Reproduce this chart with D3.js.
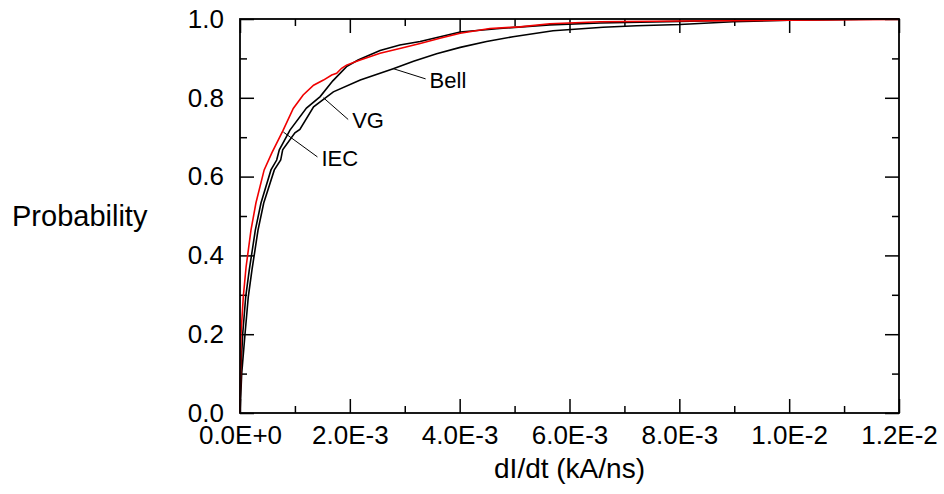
<!DOCTYPE html>
<html>
<head>
<meta charset="utf-8">
<script src="https://cdn.jsdelivr.net/npm/d3@7"></script>
<style>
  body { margin: 0; background: #fff; }
  text { font-family: "Liberation Sans", Arial, sans-serif; fill: #000; }
</style>
</head>
<body>
<svg width="944" height="494"></svg>
<script>
// dI/dt in kA/ns, cumulative probability
var iecX = [0, 0.000009, 0.000018, 0.00006, 0.00011, 0.0002, 0.00029, 0.00044, 0.00058, 0.00078, 0.00097, 0.00115, 0.00134, 0.00152, 0.00167, 0.00176, 0.00185, 0.00194, 0.00215, 0.00255, 0.00291, 0.00328, 0.00364, 0.00401, 0.00455, 0.0051, 0.00564, 0.00656, 0.00801, 0.00898, 0.01, 0.0111, 0.012];
var iecP = [0, 0.1, 0.2, 0.295, 0.37, 0.464, 0.533, 0.617, 0.66, 0.716, 0.773, 0.807, 0.832, 0.845, 0.858, 0.862, 0.875, 0.883, 0.894, 0.913, 0.925, 0.938, 0.951, 0.964, 0.976, 0.98, 0.988, 0.993, 0.995, 0.996, 0.997, 0.998, 0.999];

var vgX = [0, 0.000013, 0.000049, 0.000104, 0.000169, 0.000279, 0.000382, 0.000564, 0.000668, 0.000716, 0.00091, 0.00121, 0.00146, 0.00169, 0.00194, 0.00215, 0.00255, 0.00291, 0.00328, 0.00401, 0.00473, 0.00564, 0.00656, 0.00801, 0.00898, 0.01, 0.012];
var vgP = [0, 0.1, 0.2, 0.295, 0.363, 0.464, 0.533, 0.617, 0.642, 0.668, 0.718, 0.774, 0.803, 0.843, 0.879, 0.896, 0.92, 0.934, 0.943, 0.967, 0.976, 0.985, 0.99, 0.994, 0.997, 0.998, 1.0];

var bellX = [0, 0.000031, 0.000091, 0.000151, 0.000218, 0.000328, 0.000432, 0.000625, 0.000741, 0.000777, 0.001, 0.00109, 0.00134, 0.0017, 0.00219, 0.00279, 0.00316, 0.00358, 0.00401, 0.00449, 0.00497, 0.0057, 0.00661, 0.00722, 0.00801, 0.00898, 0.01, 0.0111, 0.012];
var bellP = [0, 0.1, 0.2, 0.295, 0.363, 0.464, 0.533, 0.617, 0.642, 0.668, 0.711, 0.72, 0.777, 0.815, 0.845, 0.874, 0.893, 0.912, 0.928, 0.943, 0.955, 0.97, 0.979, 0.983, 0.986, 0.993, 0.997, 0.999, 1.0];

var xMajor = [0, 0.002, 0.004, 0.006, 0.008, 0.01, 0.012];
var xMinor = [0.001, 0.003, 0.005, 0.007, 0.009, 0.011];
var yMajor = [0, 0.2, 0.4, 0.6, 0.8, 1.0];
var yMinor = [0.1, 0.3, 0.5, 0.7, 0.9];

// curve labels: point on the curve, and where the leader line ends
var labels = [
    {name: "Bell", px: 0.00279, pp: 0.874, lx: 0.00338, lp: 0.848},
    {name: "VG", px: 0.00152, pp: 0.8, lx: 0.00197, lp: 0.745},
    {name: "IEC", px: 0.00079, pp: 0.713, lx: 0.00141, lp: 0.65}
];

var svg = d3.select("svg"),
    margin = {top: 19, right: 45, bottom: 81, left: 240},
    width = 944 - margin.left - margin.right,
    height = 494 - margin.top - margin.bottom;

var g = svg.append("g").attr("transform", "translate(" + margin.left + "," + margin.top + ")");

var x = d3.scaleLinear().domain([0, 0.012]).range([0, width]);
var y = d3.scaleLinear().domain([0, 1]).range([height, 0]);

var sci = function(d) { return d3.format(".1e")(d).toUpperCase(); };

// major ticks with labels
g.append("g").attr("class", "axis")
    .attr("transform", "translate(0," + height + ")")
    .call(d3.axisBottom(x).tickValues(xMajor).tickSizeInner(-14).tickSizeOuter(0).tickPadding(13).tickFormat(sci));
g.append("g").attr("class", "axis")
    .attr("transform", "translate(0," + height + ")")
    .call(d3.axisBottom(x).tickValues(xMinor).tickSizeInner(-7).tickSizeOuter(0).tickFormat(""));
g.append("g").attr("class", "axis")
    .call(d3.axisTop(x).tickValues(xMajor).tickSizeInner(-14).tickSizeOuter(0).tickFormat(""));
g.append("g").attr("class", "axis")
    .call(d3.axisTop(x).tickValues(xMinor).tickSizeInner(-7).tickSizeOuter(0).tickFormat(""));
g.append("g").attr("class", "axis")
    .call(d3.axisLeft(y).tickValues(yMajor).tickSizeInner(-14).tickSizeOuter(0).tickPadding(16).tickFormat(d3.format(".1f")));
g.append("g").attr("class", "axis")
    .call(d3.axisLeft(y).tickValues(yMinor).tickSizeInner(-7).tickSizeOuter(0).tickFormat(""));
g.append("g").attr("class", "axis")
    .attr("transform", "translate(" + width + ",0)")
    .call(d3.axisRight(y).tickValues(yMajor).tickSizeInner(-14).tickSizeOuter(0).tickFormat(""));
g.append("g").attr("class", "axis")
    .attr("transform", "translate(" + width + ",0)")
    .call(d3.axisRight(y).tickValues(yMinor).tickSizeInner(-7).tickSizeOuter(0).tickFormat(""));

g.selectAll(".axis .domain").remove();
g.selectAll(".axis line").attr("stroke", "#000").attr("stroke-width", 1.5);
g.selectAll(".axis text").style("font-size", "26px").attr("fill", "#000");

var line = d3.line()
    .x(function(d) { return x(d[0]); })
    .y(function(d) { return y(d[1]); });

var series = [
    {xs: bellX, ps: bellP, color: "#000"},
    {xs: vgX, ps: vgP, color: "#000"},
    {xs: iecX, ps: iecP, color: "#f00000"}
];

g.selectAll("path.curve")
    .data(series)
    .enter().append("path")
    .attr("class", "curve")
    .attr("fill", "none")
    .attr("stroke", function(d) { return d.color; })
    .attr("stroke-width", 1.6)
    .attr("d", function(d) { return line(d3.zip(d.xs, d.ps)); });

// frame
g.append("rect")
    .attr("width", width).attr("height", height)
    .attr("fill", "none").attr("stroke", "#000").attr("stroke-width", 1.8);

// leader lines and names
g.selectAll("line.leader")
    .data(labels)
    .enter().append("line")
    .attr("class", "leader")
    .attr("stroke", "#000").attr("stroke-width", 1)
    .attr("x1", function(d) { return x(d.px); })
    .attr("y1", function(d) { return y(d.pp); })
    .attr("x2", function(d) { return x(d.lx); })
    .attr("y2", function(d) { return y(d.lp); });

g.selectAll("text.name")
    .data(labels)
    .enter().append("text")
    .attr("class", "name")
    .attr("x", function(d) { return x(d.lx) + 4; })
    .attr("y", function(d) { return y(d.lp) + 9; })
    .style("font-size", "22px")
    .text(function(d) { return d.name; });

// axis titles
svg.append("text")
    .attr("x", margin.left + width / 2)
    .attr("y", 478)
    .attr("text-anchor", "middle")
    .style("font-size", "28px")
    .text("dI/dt (kA/ns)");

svg.append("text")
    .attr("x", 12)
    .attr("y", 226)
    .style("font-size", "29px")
    .text("Probability");
</script>
</body>
</html>
